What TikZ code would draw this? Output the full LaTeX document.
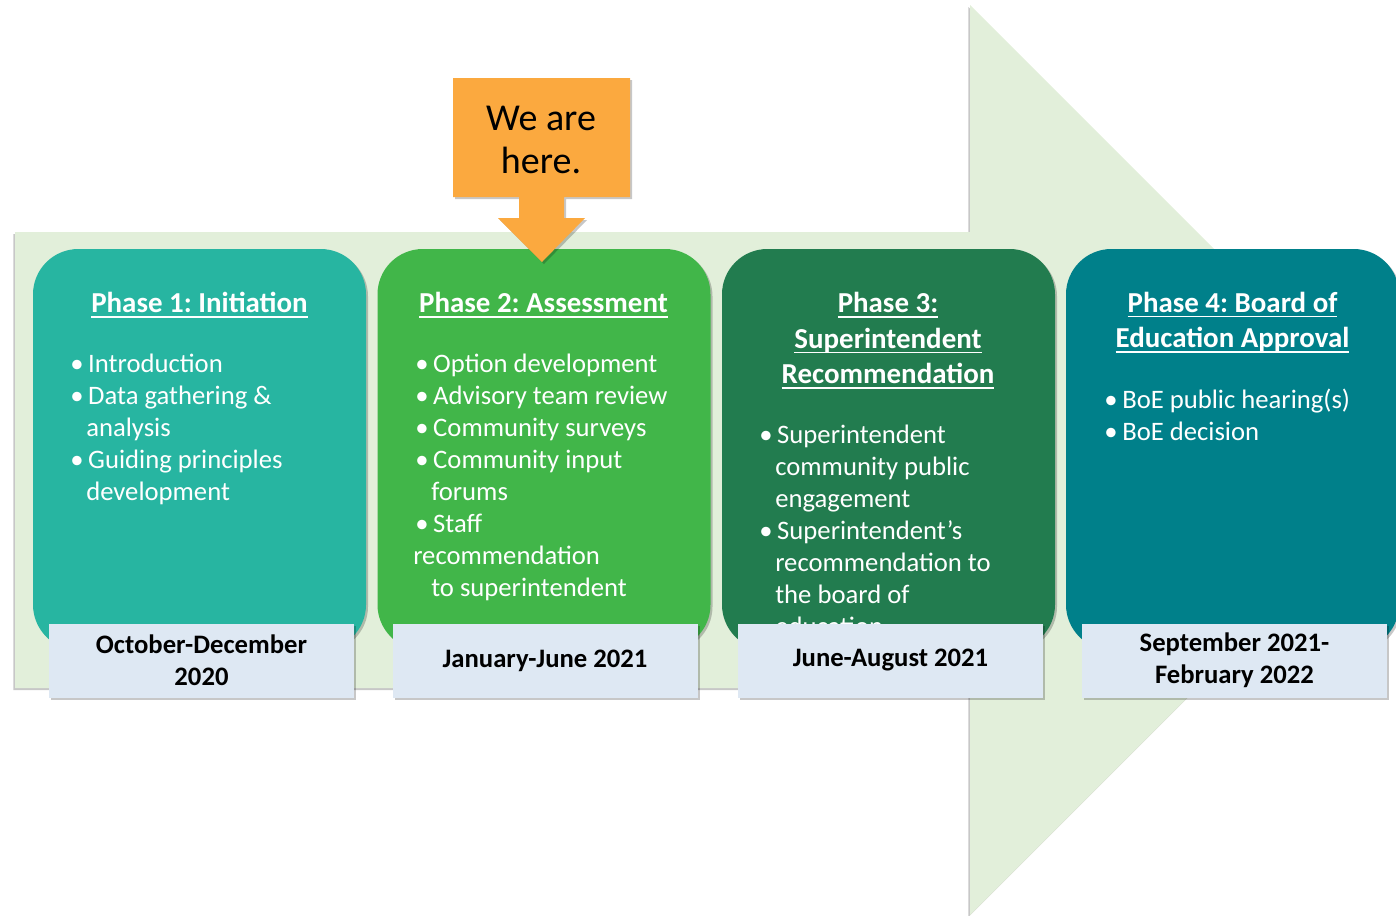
\documentclass[tikz,border=0pt]{standalone}
\usepackage{fontspec}
\setmainfont{Carlito}
\usetikzlibrary{shadows,positioning}
\definecolor{bgarrow}{RGB}{226,239,218}
\definecolor{phaseA}{RGB}{39,181,161}
\definecolor{phaseB}{RGB}{65,182,73}
\definecolor{phaseC}{RGB}{34,124,79}
\definecolor{phaseD}{RGB}{0,128,138}
\definecolor{datefill}{RGB}{222,232,243}
\definecolor{herefill}{RGB}{251,169,63}
\frenchspacing
\newcommand{\bul}{\makebox[13.5pt][l]{\textbullet}}
\newcommand{\cont}{\hspace*{12pt}}
\newcommand{\undl}[1]{\setbox0\hbox{#1}\rlap{\vrule height -2.6pt depth 3.8pt width \wd0}\box0}
\tikzset{
  softshadow/.style={drop shadow={shadow xshift=1.5pt,shadow yshift=-1.5pt,opacity=.22,fill=black}},
  phasebox/.style={rounded corners=34pt,minimum width=249.75pt,minimum height=300.75pt,
    inner sep=0pt,softshadow},
  datebox/.style={fill=datefill,minimum width=228.75pt,minimum height=55.5pt,inner sep=0pt,
    align=center,font=\fontsize{20}{24}\selectfont\bfseries,softshadow},
  phasetitle/.style={text=white,align=center,inner sep=0pt,
    font=\fontsize{21.7}{26.6}\selectfont\bfseries},
  phaselist/.style={text=white,align=left,anchor=north west,inner sep=0pt,
    font=\fontsize{20}{24}\selectfont},
}
\begin{document}
\begin{tikzpicture}[x=0.75pt,y=-0.75pt]
\useasboundingbox (0,0) rectangle (1396,915);
% ---------------- background arrow ----------------
\fill[bgarrow,drop shadow={shadow xshift=-1.2pt,shadow yshift=-1.5pt,opacity=.22,fill=black}]
  (15,232) -- (970,232) -- (970,5) -- (1425,460) -- (970,915) -- (970,688) -- (15,688) -- cycle;
% ---------------- phase boxes ----------------
\node[phasebox,fill=phaseA] (ph1) at (199.5,449.5) {};
\node[phasebox,fill=phaseB] (ph2) at (544,449.5) {};
\node[phasebox,fill=phaseC] (ph3) at (888.5,449.5) {};
\node[phasebox,fill=phaseD] (ph4) at (1232.5,449.5) {};
% titles
\node[phasetitle] (ti1) at (199.5,305) {\undl{Phase 1: Initiation}};
\node[phasetitle] (ti2) at (543.5,305) {\undl{Phase 2: Assessment}};
\node[phasetitle] (ti3) at (888,340.5) {\undl{Phase 3:}\\\undl{Superintendent}\\\undl{Recommendation}};
\node[phasetitle] (ti4) at (1232.5,322.5) {\undl{Phase 4: Board of}\\\undl{Education Approval}};
% bullet lists
\node[phaselist] (li1) at (70,349.6)
  {\strut\bul Introduction\\\bul Data gathering \&\\\cont analysis\\
   \bul Guiding principles\\\cont development};
\node[phaselist] (li2) at (415,349.6)
  {\strut\bul Option development\\\bul Advisory team review\\\bul Community surveys\\
   \bul Community input\\\cont forums\\\bul Staff\\\hspace*{-1.5pt}recommendation\\
   \cont to superintendent};
\node[phaselist] (li3) at (759,420.6)
  {\strut\bul Superintendent\\\cont community public\\\cont engagement\\
   \bul Superintendent’s\\\cont recommendation to\\\cont the board of\\\cont education};
\node[phaselist] (li4) at (1104,385.6)
  {\strut\bul BoE public hearing(s)\\\bul BoE decision};
% ---------------- dates ----------------
\node[datebox] (da1) at (201.5,660.5) {October-December\\2020};
\node[datebox] (da2) at (545,660.5) {January-June 2021};
\node[datebox] (da3) at (890.5,660.5) {June-August 2021};
\node[datebox] (da4) at (1234.5,660.5) {September 2021-\\February 2022};
% ---------------- we are here ----------------
\fill[herefill,softshadow] (453,78) -- (630,78) -- (630,197) -- (564,197) -- (564,218)
  -- (585,218) -- (542,262) -- (498,218) -- (519,218) -- (519,197) -- (453,197) -- cycle;
\node[align=center,inner sep=0pt,font=\fontsize{28.5}{32.5}\selectfont] (here) at (541,140) {We are\\here.};
\end{tikzpicture}
\end{document}
